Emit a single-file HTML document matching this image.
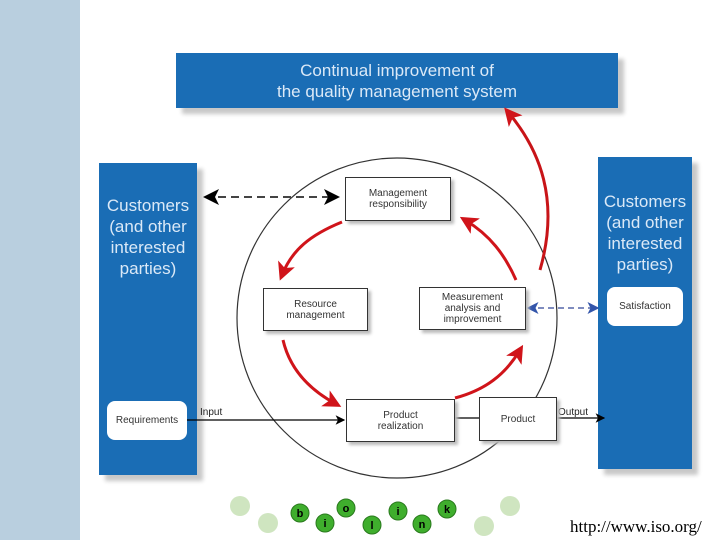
<!DOCTYPE html><html><head><style>
body{margin:0;width:720px;height:540px;background:#fff;position:relative;overflow:hidden;font-family:"Liberation Sans",sans-serif}
.a{position:absolute}
.blue{background:#1a6db5;color:#dbe9f7;box-shadow:6px 6px 4px #c8c8c8}
.wb{background:#fff;border:1px solid #333;box-shadow:3px 3px 3px #bbb;font-size:10px;color:#333;display:flex;align-items:center;justify-content:center;text-align:center;line-height:11px}
.ct{font-size:17px;text-align:center;line-height:21px}
</style></head><body>
<div class="a" style="left:0;top:0;width:80px;height:540px;background:#b9cfdf"></div>
<div class="a blue" style="left:176px;top:53px;width:442px;height:55px;font-size:17px;line-height:21px;padding-top:7px;box-sizing:border-box;text-align:center">Continual improvement of<br>the quality management system</div>
<div class="a blue ct" style="left:99px;top:163px;width:98px;height:312px;padding-top:32px;box-sizing:border-box">Customers<br>(and other<br>interested<br>parties)</div>
<div class="a blue ct" style="left:598px;top:157px;width:94px;height:312px;padding-top:34px;box-sizing:border-box">Customers<br>(and other<br>interested<br>parties)</div>
<svg class="a" style="left:0;top:0" width="720" height="540">
<defs>
<marker id="k" markerWidth="8" markerHeight="8" refX="7" refY="4" orient="auto-start-reverse"><path d="M0,0L8,4L0,8L2,4z" fill="#000"/></marker>
<marker id="b" markerWidth="8" markerHeight="8" refX="7" refY="4" orient="auto-start-reverse"><path d="M0,0L8,4L0,8L2,4z" fill="#3355aa"/></marker>
<marker id="r" markerWidth="6" markerHeight="6" refX="4" refY="3" orient="auto"><path d="M0,0L6,3L0,6L1.5,3z" fill="#d0141a"/></marker>
</defs>
<circle cx="397" cy="318" r="160" fill="#fff" stroke="#333" stroke-width="1.2"/>
<path d="M540,270 C560,200 540,150 508,112" fill="none" stroke="#c81418" stroke-width="3" marker-end="url(#r)"/>
<line x1="205" y1="197" x2="338" y2="197" stroke="#444" stroke-width="2" stroke-dasharray="8,5" marker-start="url(#k)" marker-end="url(#k)"/>
<line x1="528" y1="308" x2="598" y2="308" stroke="#5566aa" stroke-width="1.5" stroke-dasharray="6,4" marker-start="url(#b)" marker-end="url(#b)"/>
<line x1="187" y1="420" x2="344" y2="420" stroke="#000" stroke-width="1.2" marker-end="url(#k)"/>
<line x1="453" y1="418" x2="479" y2="418" stroke="#000" stroke-width="1.2"/>
<line x1="555" y1="418" x2="604" y2="418" stroke="#000" stroke-width="1.2" marker-end="url(#k)"/>
<g fill="none" stroke="#d0141a" stroke-width="3">
<path d="M342,222 C310,235 292,250 282,275" marker-end="url(#r)"/>
<path d="M283,340 C290,370 310,390 336,404" marker-end="url(#r)"/>
<path d="M455,398 C485,390 505,375 520,350" marker-end="url(#r)"/>
<path d="M516,280 C505,255 490,235 465,220" marker-end="url(#r)"/>
</g>
<text x="200" y="415" font-size="10" fill="#222">Input</text>
<text x="558" y="415" font-size="10" fill="#222">Output</text>
<g fill="#cfe5c0"><circle cx="240" cy="506" r="10"/><circle cx="268" cy="523" r="10"/><circle cx="510" cy="506" r="10"/><circle cx="484" cy="526" r="10"/></g>
<g fill="#3fae2d" stroke="#2a7a1e"><circle cx="300" cy="513" r="9"/><circle cx="325" cy="523" r="9"/><circle cx="346" cy="508" r="9"/><circle cx="372" cy="525" r="9"/><circle cx="398" cy="511" r="9"/><circle cx="422" cy="524" r="9"/><circle cx="447" cy="509" r="9"/></g>
<g font-size="11" font-weight="bold" text-anchor="middle" fill="#000"><text x="300" y="517">b</text><text x="325" y="527">i</text><text x="346" y="512">o</text><text x="372" y="529">l</text><text x="398" y="515">i</text><text x="422" y="528">n</text><text x="447" y="513">k</text></g>
<text x="570" y="532" font-size="17" font-family="Liberation Serif" fill="#000">http://www.iso.org/</text>
</svg>
<div class="a wb" style="left:345px;top:177px;width:104px;height:42px">Management<br>responsibility</div>
<div class="a wb" style="left:263px;top:288px;width:103px;height:41px">Resource<br>management</div>
<div class="a wb" style="left:419px;top:287px;width:105px;height:41px">Measurement<br>analysis and<br>improvement</div>
<div class="a wb" style="left:346px;top:399px;width:107px;height:41px">Product<br>realization</div>
<div class="a wb" style="left:479px;top:397px;width:76px;height:42px">Product</div>
<div class="a wb" style="left:107px;top:401px;width:80px;height:39px;border:none;border-radius:8px;box-shadow:none">Requirements</div>
<div class="a wb" style="left:607px;top:287px;width:76px;height:39px;border:none;border-radius:8px;box-shadow:none">Satisfaction</div>
</body></html>
